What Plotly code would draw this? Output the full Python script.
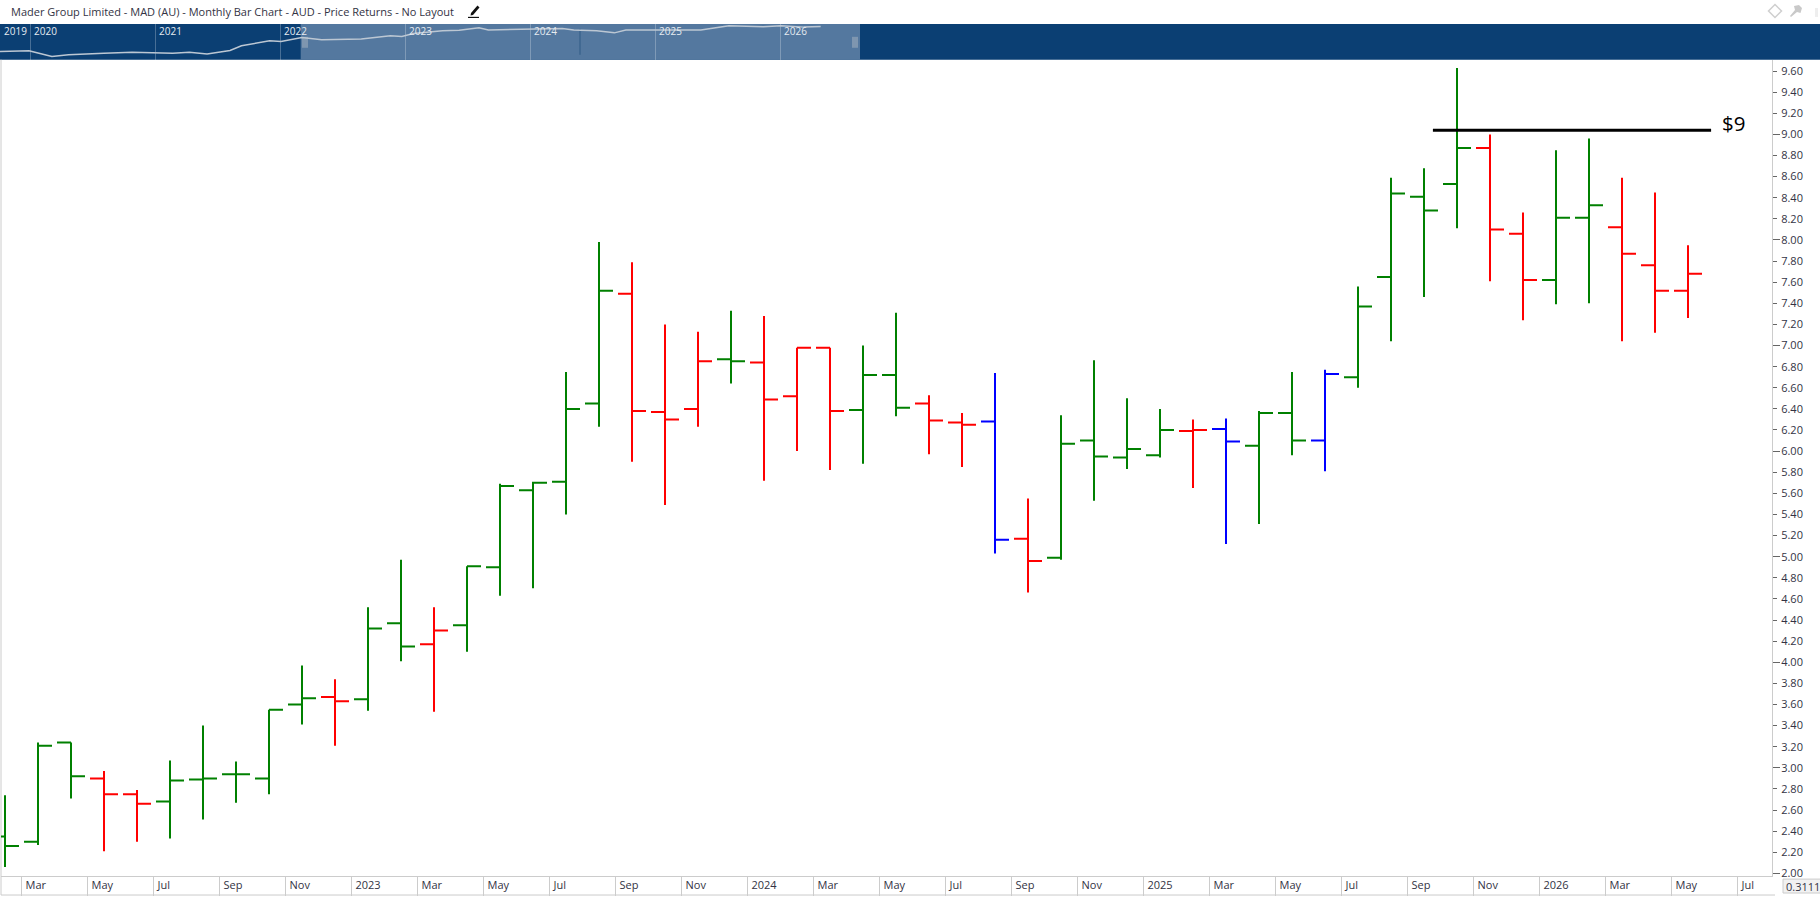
import plotly.graph_objects as go

W, H = 1820, 903

# ---- data ----
months = ["2022-02","2022-03","2022-04","2022-05","2022-06","2022-07","2022-08","2022-09","2022-10","2022-11","2022-12",
          "2023-01","2023-02","2023-03","2023-04","2023-05","2023-06","2023-07","2023-08","2023-09","2023-10","2023-11","2023-12",
          "2024-01","2024-02","2024-03","2024-04","2024-05","2024-06","2024-07","2024-08","2024-09","2024-10","2024-11","2024-12",
          "2025-01","2025-02","2025-03","2025-04","2025-05","2025-06","2025-07","2025-08","2025-09","2025-10","2025-11","2025-12",
          "2026-01","2026-02","2026-03","2026-04","2026-05"]
opens = [2.35,2.30,3.24,2.90,2.75,2.68,2.89,2.94,2.90,3.60,3.67,
         3.65,4.37,4.17,4.35,4.90,5.63,5.71,6.45,7.49,6.37,6.40,6.87,
         6.84,6.52,6.98,6.39,6.72,6.45,6.27,6.28,5.17,4.99,6.10,5.94,
         5.96,6.19,6.21,6.05,6.36,6.10,6.70,7.65,8.41,8.53,8.87,8.06,
         7.62,8.21,8.12,7.76,7.52]
highs = [2.74,3.24,3.24,2.97,2.79,3.07,3.40,3.06,3.55,3.97,3.84,
         4.52,4.97,4.52,4.91,5.69,5.71,6.75,7.98,7.79,7.20,7.13,7.33,
         7.28,6.98,6.98,7.00,7.31,6.53,6.36,6.74,5.55,6.34,6.86,6.50,
         6.40,6.30,6.31,6.38,6.75,6.77,7.56,8.59,8.68,9.63,9.00,8.26,
         8.85,8.96,8.59,8.45,7.95]
lows = [2.06,2.27,2.71,2.21,2.30,2.33,2.51,2.67,2.75,3.41,3.21,
        3.54,4.01,3.53,4.10,4.63,4.70,5.40,6.23,5.90,5.49,6.23,6.64,
        5.72,6.00,5.82,5.88,6.33,5.97,5.85,5.03,4.66,4.97,5.53,5.83,
        5.94,5.65,5.12,5.31,5.96,5.81,6.60,7.04,7.46,8.11,7.61,7.24,
        7.39,7.40,7.04,7.12,7.26]
closes = [2.26,3.21,2.92,2.75,2.66,2.88,2.90,2.94,3.55,3.66,3.63,
          4.32,4.15,4.30,4.91,5.67,5.70,6.40,7.52,6.38,6.30,6.85,6.85,
          6.49,6.98,6.38,6.72,6.41,6.29,6.25,5.16,4.96,6.07,5.95,6.02,
          6.20,6.20,6.09,6.36,6.10,6.73,7.37,8.44,8.28,8.87,8.10,7.62,
          8.21,8.33,7.87,7.52,7.68]
bar_group = list("gggrrgggggr" "ggrggggg" "rrrg" "rrrggrrbrggg" "grbggbgggg" "rrggrrr")

x_tick_labels = ["Mar","May","Jul","Sep","Nov","2023","Mar","May","Jul","Sep","Nov","2024","Mar","May","Jul","Sep","Nov",
                 "2025","Mar","May","Jul","Sep","Nov","2026","Mar","May","Jul"]
x_tick_months = list(range(1, 54, 2))   # month offset from Feb 2022 of each label
y_tick_vals = [round(2 + 0.2 * k, 1) for k in range(39)]
y_major_vals = [2, 3, 4, 5, 6, 7, 8, 9]

level_price = 9.04
level_label = "$9"
level_from, level_to = 43.27, 51.7

nav_years = ["2020","2021","2022","2023","2024","2025","2026"]
nav_year_months = [0, 12, 24, 36, 48, 60, 72]
nav_months = [-2.9,-0.1,2.1,3.7,7.1,9.8,13.7,15.3,17,19.2,20.3,23,24.1,26.1,28,31.8,34.6,35.7,36.8,39.6,41.2,43.1,44,46.7,
              51.1,52.2,54.4,56.1,57.2,60.5,64.4,67.1,69.3,70.4,72.1,74.3,75.9]
nav_levels = [.23,.25,.09,.14,.18,.21,.18,.21,.16,.26,.39,.53,.51,.62,.56,.58,.67,.65,.73,.81,.82,.89,.83,.85,
              .87,.83,.81,.75,.83,.83,.83,.95,.94,.92,.95,.91,.93]

title_text = "Mader Group Limited - MAD (AU) - Monthly Bar Chart - AUD - Price Returns - No Layout"

COLORS = {"g": "#008000", "r": "#ff0000", "b": "#0000ff"}
AXIS = "#cccccc"
TEXT = "#333344"
FONT = "Open Sans"

def px(x):
    return x / W
def py(y):
    return 1 - y / H

bar_x = list(range(len(months)))
fig = go.Figure()

for key, col in COLORS.items():
    pick = lambda arr: [v if g == key else None for v, g in zip(arr, bar_group)]
    fig.add_trace(go.Ohlc(
        x=bar_x, open=pick(opens), high=pick(highs), low=pick(lows), close=pick(closes),
        increasing=dict(line=dict(color=col, width=2)),
        decreasing=dict(line=dict(color=col, width=2)),
        tickwidth=14 / 33, showlegend=False, hoverinfo="skip",
        xaxis="x", yaxis="y"))

fig.add_trace(go.Scatter(x=[level_from, level_to], y=[level_price, level_price], mode="lines",
                         line=dict(color="#000000", width=3), showlegend=False, hoverinfo="skip",
                         xaxis="x", yaxis="y"))
fig.add_trace(go.Scatter(x=nav_months, y=nav_levels, mode="lines",
                         line=dict(color="#bcc7d3", width=1.5), showlegend=False, hoverinfo="skip",
                         xaxis="x2", yaxis="y2"))

def rect(x0, y0, x1, y1, fill, line=None, layer="below"):
    return dict(type="rect", xref="paper", yref="paper", x0=px(x0), x1=px(x1), y0=py(y0), y1=py(y1),
                fillcolor=fill, line=dict(color=line or fill, width=1 if line else 0), layer=layer)
def seg(x0, y0, x1, y1, color, width=1, layer="below"):
    return dict(type="line", xref="paper", yref="paper", x0=px(x0), x1=px(x1), y0=py(y0), y1=py(y1),
                line=dict(color=color, width=width), layer=layer)
def poly(points, fill, line=None, width=0):
    d = "M " + " L ".join(f"{px(a):.5f} {py(b):.5f}" for a, b in points) + " Z"
    return dict(type="path", xref="paper", yref="paper", path=d, fillcolor=fill,
                line=dict(color=line or fill, width=width), layer="above")

shapes = [
    rect(0, 24, W, 60, "#0b3f73"),
    rect(300.7, 24, 860, 60, "#54789f"),
    seg(580, 29, 580, 55, "#2f5a85"),
    seg(1, 60, 1, 899, AXIS),
    seg(1, 899, 1775, 899, AXIS),
    rect(1783, 883, 1825, 897, "#f1f1f1", AXIS),
    # selection grips
    seg(303, 37, 303, 48, "#a9b4c0"), seg(305, 37, 305, 48, "#a9b4c0"), seg(307, 37, 307, 48, "#a9b4c0"),
    seg(853, 37, 853, 48, "#a9b4c0"), seg(855, 37, 855, 48, "#a9b4c0"), seg(857, 37, 857, 48, "#a9b4c0"),
    # pencil icon
    poly([(471, 13), (477.5, 5.5), (479.5, 7.5), (473, 15), (470.5, 15.5)], "#111111"),
    seg(468, 17.5, 479, 17.5, "#111111", 1.2, "above"),
    # diamond icon
    poly([(1775, 4.5), (1781.5, 11), (1775, 17.5), (1768.5, 11)], "rgba(0,0,0,0)", "#cfcfcf", 1.5),
    # pin icon
    poly([(1794, 6), (1799, 5), (1802, 8), (1800.5, 13), (1797, 12), (1791, 17), (1790, 16), (1795, 10)], "#c9c9c9"),
    # faint third icon
    poly([(1815, 8), (1818, 8), (1818, 17), (1815, 17)], "#eeeeee"),
]

annotations = [
    dict(text=title_text, xref="paper", yref="paper", x=px(9), y=py(12), xanchor="left", yanchor="middle",
         showarrow=False, font=dict(family=FONT, size=11, color=TEXT)),
    dict(text="2019", xref="paper", yref="paper", x=px(2), y=py(31), xanchor="left", yanchor="middle",
         showarrow=False, font=dict(family=FONT, size=10, color="#e6ebf1")),
    dict(text=level_label, xref="x", yref="paper", x=level_to + 0.27, y=py(124), xanchor="left", yanchor="middle",
         showarrow=False, font=dict(family=FONT, size=20.5, color="#000000")),
    dict(text="0.3111", xref="paper", yref="paper", x=px(1784), y=py(890), xanchor="left", yanchor="middle",
         showarrow=False, font=dict(family=FONT, size=11, color=TEXT)),
]

fig.update_layout(
    width=W, height=H, margin=dict(l=0, r=0, t=0, b=0), autosize=False,
    paper_bgcolor="#ffffff", plot_bgcolor="rgba(0,0,0,0)", showlegend=False,
    font=dict(family=FONT, size=11, color=TEXT),
    shapes=shapes, annotations=annotations,
    xaxis=dict(domain=[px(1), px(1772)], range=[(1 - 5) / 33, (1772 - 5) / 33], anchor="y",
               rangeslider=dict(visible=False), showgrid=False, zeroline=False,
               showline=True, linecolor=AXIS, linewidth=1,
               tickmode="array", tickvals=[m - 0.5 for m in x_tick_months], ticktext=x_tick_labels,
               ticks="outside", ticklen=19, tickcolor=AXIS, tickwidth=1,
               ticklabelposition="outside right", ticklabelstandoff=-1, ticklabelshift=3,
               tickfont=dict(family=FONT, size=11, color=TEXT)),
    yaxis=dict(domain=[py(880), py(60)], range=[(1089.36 - 880) / 106.04, (1089.36 - 60) / 106.04],
               anchor="x", side="right", showgrid=False, zeroline=False,
               showline=True, linecolor=AXIS, linewidth=1,
               tickmode="array", tickvals=y_tick_vals, ticktext=[f"{v:.2f}" for v in y_tick_vals],
               ticks="outside", ticklen=4, tickcolor="#666666", tickwidth=1, ticklabelstandoff=2,
               minor=dict(tickmode="array", tickvals=y_major_vals, ticks="outside", ticklen=7,
                          tickcolor="#666666", tickwidth=1, showgrid=False),
               tickfont=dict(family=FONT, size=11, color=TEXT)),
    xaxis2=dict(domain=[0, 1], range=[-30 / 10.417, 1790 / 10.417], anchor="y2", side="top",
                showgrid=True, gridcolor="rgba(255,255,255,0.25)", gridwidth=1, zeroline=False, showline=False,
                tickmode="array", tickvals=nav_year_months, ticktext=nav_years, ticks="",
                ticklabelposition="inside right", ticklabelshift=4, ticklabelstandoff=-2,
                tickfont=dict(family=FONT, size=10, color="#e6ebf1")),
    yaxis2=dict(domain=[py(60), py(24)], range=[0, 1], anchor="x2", showgrid=False, zeroline=False,
                showline=False, showticklabels=False, ticks=""),
)

fig.write_html("out.html", config=dict(displayModeBar=False),
               post_script="document.body.style.margin='0';")
